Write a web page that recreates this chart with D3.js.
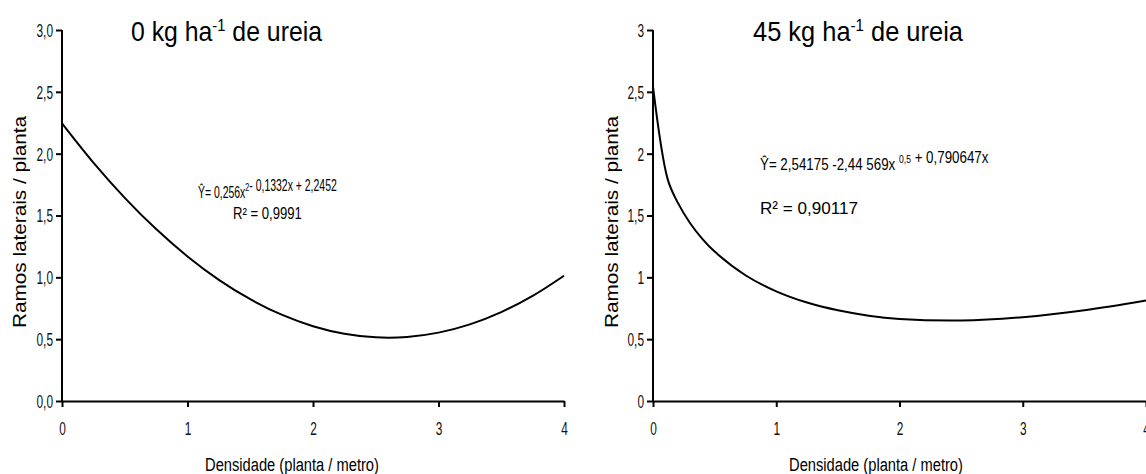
<!DOCTYPE html>
<html>
<head>
<meta charset="utf-8">
<script src="https://cdn.jsdelivr.net/npm/d3@7"></script>
<style>
  body { margin: 0; background: #fff; }
  svg { display: block; }
</style>
</head>
<body>
<div id="chart"></div>
<script>
// values
const xTicks = [0, 1, 2, 3, 4];
const yTicks = [0, 0.5, 1, 1.5, 2, 2.5, 3];

// 0 kg ha-1 de ureia
const densLeft = [0, 0.25, 0.5, 0.75, 1, 1.25, 1.5, 1.75, 2, 2.25, 2.5, 2.75, 3, 3.25, 3.5, 3.75, 4];
const ramosLeft = [2.245, 1.928, 1.643, 1.39, 1.169, 0.98, 0.823, 0.698, 0.605, 0.544, 0.515, 0.518, 0.553, 0.62, 0.719, 0.85, 1.013];

// 45 kg ha-1 de ureia
const densRight = [0, 0.12, 0.2, 0.3, 0.4, 0.5, 0.75, 1, 1.25, 1.5, 1.75, 2, 2.5, 3, 3.5, 4];
const ramosRight = [2.542, 1.79, 1.606, 1.439, 1.311, 1.208, 1.017, 0.887, 0.796, 0.733, 0.69, 0.664, 0.651, 0.678, 0.734, 0.813];

const W = 1146, H = 474;
const svg = d3.select("#chart").append("svg").attr("width", W).attr("height", H);

const sans = "'Liberation Sans', Arial, sans-serif";

// squeeze a left/middle anchored text horizontally, to a width or by a factor
function fit(t, w, k) {
  if (k == null) k = w / t.node().getBBox().width;
  const x = +t.attr("x") || 0;
  t.attr("transform", `translate(${x * (1 - k)},0) scale(${k},1)`);
}

function drawPanel(p) {
  const x = d3.scaleLinear().domain([0, 4]).range(p.xr);
  const y = d3.scaleLinear().domain([0, 3]).range([401, 30]);
  const g = svg.append("g");

  // axes
  const xAxis = g.append("g")
    .attr("transform", `translate(0,${y(0)})`)
    .call(d3.axisBottom(x).tickValues(xTicks).tickSize(6).tickSizeOuter(0).tickFormat(d => d));
  const yAxis = g.append("g")
    .attr("transform", `translate(${x(0)},0)`)
    .call(d3.axisLeft(y).tickValues(yTicks).tickSize(6).tickSizeOuter(0).tickFormat(p.fmt));

  [xAxis, yAxis].forEach(a => {
    a.select(".domain").attr("stroke", "#000").attr("stroke-width", 2);
    a.selectAll(".tick line").attr("stroke", "#000").attr("stroke-width", 2);
    a.selectAll("text").attr("fill", "#111").style("font-family", sans).style("font-size", "18px");
  });
  xAxis.selectAll("text").attr("y", 34).attr("dy", 0).each(function () { fit(d3.select(this), 0, 0.66); });
  yAxis.selectAll("text").attr("x", -9).attr("dy", "0.36em").each(function () { fit(d3.select(this), 0, 0.66); });
  yAxis.select(".domain").attr("d", `M0,${y(3)}V${y(0) + 1}`);

  // curve
  const pts = p.xs.map((d, i) => [d, p.ys[i]]);
  g.append("path")
    .datum(pts)
    .attr("fill", "none")
    .attr("stroke", "#000")
    .attr("stroke-width", 2)
    .attr("d", d3.line().x(d => x(d[0])).y(d => y(d[1])).curve(d3.curveCatmullRom.alpha(0.5)));

  // title
  const t = g.append("text")
    .attr("x", p.title.x).attr("y", 41)
    .style("font-family", sans).style("font-size", "27px").attr("fill", "#000");
  t.append("tspan").text(p.title.pre);
  t.append("tspan").attr("dy", -10).style("font-size", "16px").text("-1");
  t.append("tspan").attr("dy", 10).text(" de ureia");
  fit(t, p.title.w);

  // y label
  g.append("text")
    .attr("transform", `translate(${p.ylx},222) rotate(-90)`)
    .attr("text-anchor", "middle")
    .attr("textLength", 212).attr("lengthAdjust", "spacingAndGlyphs")
    .style("font-family", sans).style("font-size", "19px")
    .text("Ramos laterais / planta");

  // x label
  const xl = g.append("text")
    .attr("x", p.xlx).attr("y", 471)
    .attr("text-anchor", "middle")
    .style("font-family", sans).style("font-size", "18px")
    .text("Densidade (planta / metro)");
  fit(xl, 174);

  // equation
  p.eq.forEach(e => {
    const te = g.append("text")
      .attr("x", e.x).attr("y", e.y)
      .style("font-family", sans).style("font-size", e.fs + "px").attr("fill", "#000");
    e.parts.forEach(part => {
      if (part.sup) {
        te.append("tspan").attr("dy", -7).style("font-size", "11px").text(part.sup);
        te.append("tspan").attr("dy", 7).text("");
      } else {
        te.append("tspan").text(part.t);
      }
    });
    fit(te, e.w);
  });
}

drawPanel({
  xr: [62, 564],
  xs: densLeft, ys: ramosLeft,
  fmt: d => d.toFixed(1).replace(".", ","),
  title: { x: 131, pre: "0 kg ha", w: 192 },
  ylx: 26, xlx: 292,
  eq: [
    { x: 198, y: 198, w: 139, fs: 16, parts: [{ t: "Ŷ= 0,256x" }, { sup: "2" }, { t: "- 0,1332x + 2,2452" }] },
    { x: 233, y: 219, w: 69, fs: 16, parts: [{ t: "R² = 0,9991" }] }
  ]
});

drawPanel({
  xr: [653, 1146],
  xs: densRight, ys: ramosRight,
  fmt: d => String(d).replace(".", ","),
  title: { x: 753, pre: "45 kg ha", w: 211 },
  ylx: 618, xlx: 876,
  eq: [
    { x: 760, y: 170, w: 229, fs: 17, parts: [{ t: "Ŷ= 2,54175 -2,44 569x " }, { sup: "0,5" }, { t: " + 0,790647x" }] },
    { x: 760, y: 214, w: 98, fs: 17, parts: [{ t: "R² = 0,90117" }] }
  ]
});
</script>
</body>
</html>
